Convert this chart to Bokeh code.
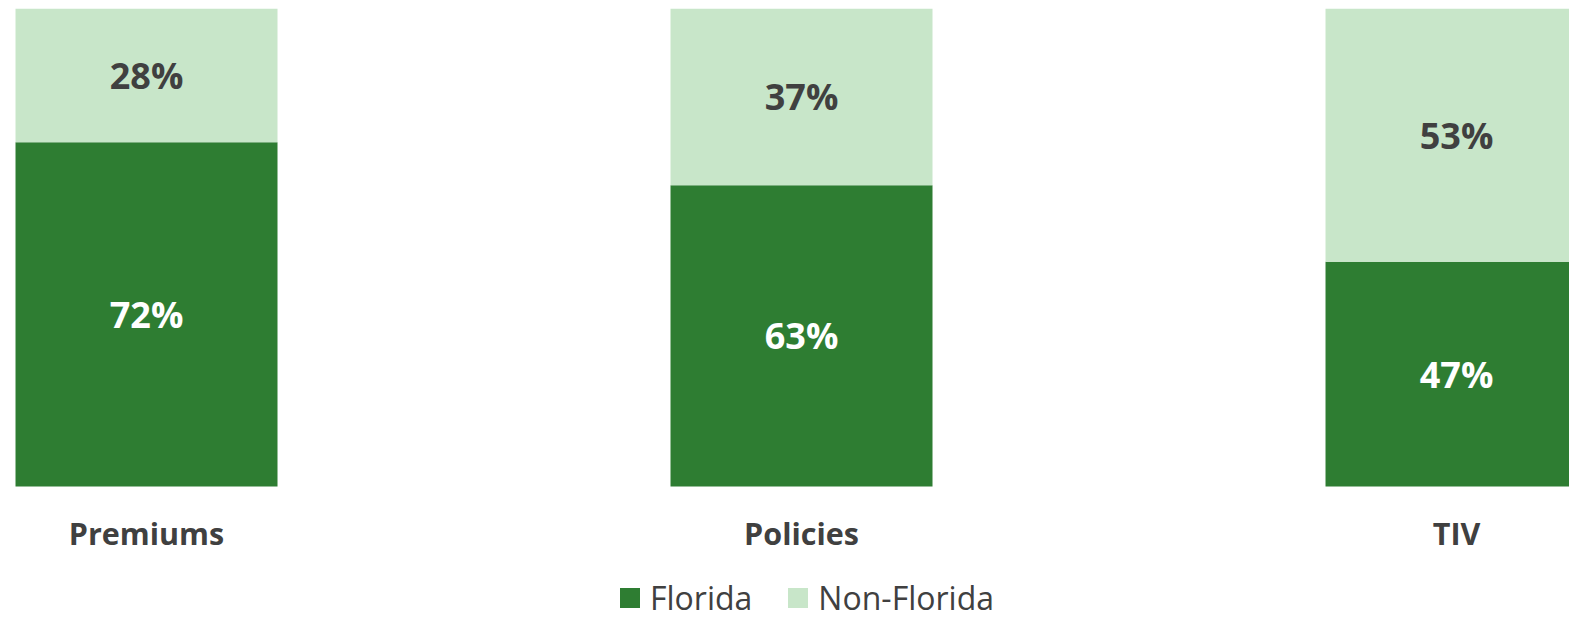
from bokeh.plotting import figure
from bokeh.models import ColumnDataSource, Range1d, Legend
from bokeh.embed import file_html
from bokeh.resources import INLINE
from bokeh.core.properties import value

categories = ["Premiums", "Policies", "TIV"]
florida = [72, 63, 47]
non_florida = [28, 37, 53]
series = ["Florida", "Non-Florida"]
colors = ["#2E7D32", "#C8E6C9"]

x = list(range(len(categories)))
src = ColumnDataSource(dict(
    x=x,
    cat=categories,
    cat_y=[-9.8] * len(categories),
    fl=florida,
    nf=non_florida,
    fl_mid=[f / 2 for f in florida],
    nf_mid=[f + n / 2 for f, n in zip(florida, non_florida)],
    fl_txt=[f"{f}%" for f in florida],
    nf_txt=[f"{n}%" for n in non_florida],
))

p = figure(frame_width=1561, frame_height=611,
           x_range=Range1d(-0.2107, 2.1725), y_range=Range1d(-27.82, 100),
           output_backend="svg", toolbar_location=None,
           min_border_left=8, min_border_right=0, min_border_top=8, min_border_bottom=0)

rs = p.vbar_stack(["fl", "nf"], x="x", width=0.4, color=colors, line_color=None, source=src)

font = value("Open Sans")
p.text(x="x", y="fl_mid", text="fl_txt", source=src, text_align="center", text_baseline="middle",
       text_font=font, text_font_style="bold", text_font_size="36px", text_color="white")
p.text(x="x", y="nf_mid", text="nf_txt", source=src, text_align="center", text_baseline="middle",
       text_font=font, text_font_style="bold", text_font_size="36px", text_color="#404040")
p.text(x="x", y="cat_y", text="cat", source=src, text_align="center", text_baseline="middle",
       text_font=font, text_font_style="bold", text_font_size="30.5px", text_color="#404040")

p.xaxis.visible = False
p.yaxis.visible = False
p.xgrid.visible = False
p.ygrid.visible = False
p.outline_line_color = None

legend = Legend(items=[(s, [r]) for s, r in zip(series, rs)], orientation="horizontal",
                location=(609, 0), glyph_width=25, glyph_height=25, label_height=21,
                label_text_font="Open Sans", label_text_font_size="32px", label_text_color="#404040",
                label_text_baseline="middle", background_fill_alpha=0,
                spacing=33, label_standoff=8, border_line_color=None, padding=0, margin=0)
p.add_layout(legend)

open("out.html", "w").write(file_html(p, INLINE))
